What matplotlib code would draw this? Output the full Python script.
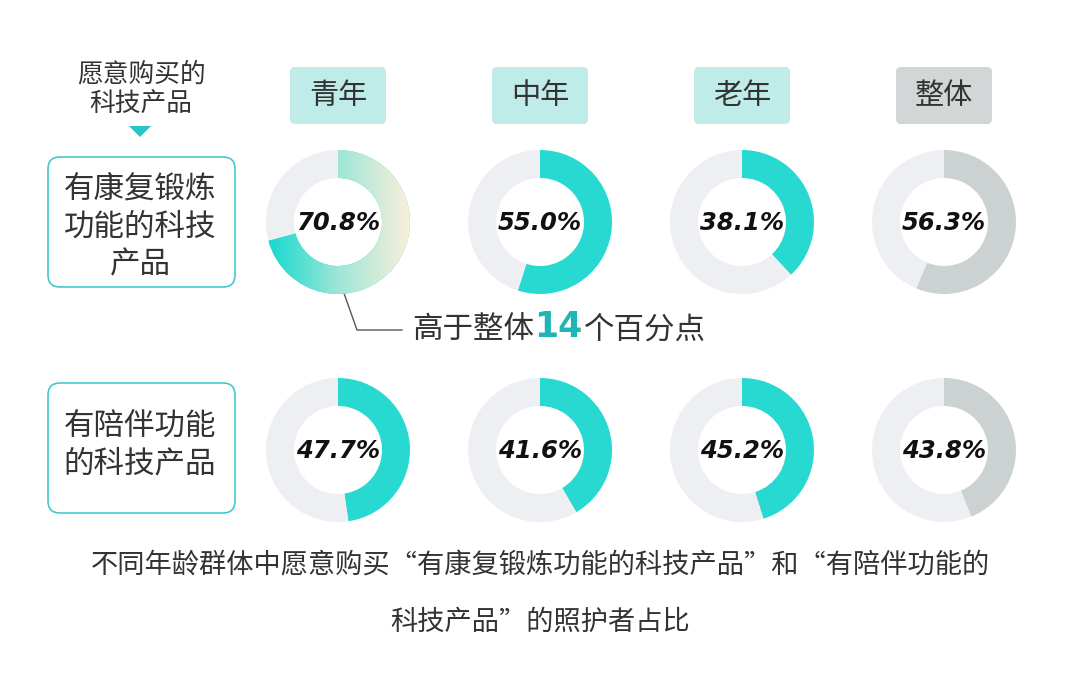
import numpy as np
import matplotlib
matplotlib.use('Agg')
import matplotlib.pyplot as plt
from matplotlib.patches import FancyBboxPatch, Polygon
from matplotlib.colors import LinearSegmentedColormap

plt.rcParams['font.family'] = ['Noto Sans CJK SC', 'DejaVu Sans']

groups = ['青年', '中年', '老年', '整体']
row_labels = ['有康复锻炼\n功能的科技\n产品', '有陪伴功能\n的科技产品']
rehab = [70.8, 55.0, 38.1, 56.3]
companion = [47.7, 41.6, 45.2, 43.8]
values = [rehab, companion]

W, H = 1080, 676
fig = plt.figure(figsize=(W / 100, H / 100), dpi=100)
ax = fig.add_axes([0, 0, 1, 1])
ax.set_xlim(0, W)
ax.set_ylim(H, 0)
ax.axis('off')

col_x = [338, 540, 742, 944]
row_y = [222, 450]
teal = '#27D9D0'
gray = '#CCD1D1'
ring_bg = '#EEEFF3'
txt = '#333333'

# header boxes
for i, g in enumerate(groups):
    fc = '#D3D6D6' if g == '整体' else '#BFECE8'
    ax.add_patch(FancyBboxPatch((col_x[i] - 48, 67), 96, 57,
                                boxstyle='round,pad=0,rounding_size=5',
                                fc=fc, ec='none'))
    ax.text(col_x[i], 96, g, ha='center', va='center', fontsize=21, color=txt)

# left header
ax.text(141, 74, '愿意购买的', ha='center', va='center', fontsize=18.5, color=txt)
ax.text(141, 105, '科技产品', ha='center', va='center', fontsize=18.5, color=txt)
ax.add_patch(Polygon([[129, 126], [151, 126], [140, 137]], closed=True,
                     fc='#2BC4C4', ec='none'))

# row label boxes
for r, lab in enumerate(row_labels):
    y0 = 157 if r == 0 else 383
    ax.add_patch(FancyBboxPatch((48, y0), 187, 130,
                                boxstyle='round,pad=0,rounding_size=12',
                                fc='white', ec='#45C9CB', lw=1.2))
    lines = lab.split('\n')
    yc = y0 + 70 if r == 0 else y0 + 62
    for k, ln in enumerate(lines):
        yy = yc + (k - (len(lines) - 1) / 2) * 37.5
        ax.text(140, yy, ln, ha='center', va='center', fontsize=22, color=txt)

# annotation
ax.plot([340, 357, 402], [282, 330, 330], color='#555555', lw=1)
ax.text(412, 330, '高于整体', ha='left', va='center', fontsize=22, color=txt)
ax.text(534, 327, '14', ha='left', va='center', fontsize=25, color='#1DB5B5',
        fontweight='bold', family='DejaVu Sans')
ax.text(584, 330, '个百分点', ha='left', va='center', fontsize=22, color=txt)

# caption
ax.text(540, 566, '不同年龄群体中愿意购买“有康复锻炼功能的科技产品”和“有陪伴功能的',
        ha='center', va='center', fontsize=19.6, color=txt)
ax.text(540, 622, '科技产品”的照护者占比', ha='center', va='center',
        fontsize=19.6, color=txt)

grad_cmap = LinearSegmentedColormap.from_list('g', ['#10D8CE', '#9EE6D6', '#FBEFDA'])

R, Wd = 72, 28
for r in range(2):
    for i in range(4):
        cx, cy = col_x[i], row_y[r]
        dax = fig.add_axes([(cx - 75) / W, 1 - (cy + 75) / H, 150 / W, 150 / H])
        v = values[r][i]
        color = gray if groups[i] == '整体' else teal
        wedges, _ = dax.pie([v, 100 - v], startangle=90, counterclock=False,
                            radius=R, colors=[color, ring_bg],
                            wedgeprops=dict(width=Wd, linewidth=0))
        if r == 0 and i == 0:
            grad = np.linspace(0, 1, 256).reshape(1, -1)
            im = dax.imshow(grad, extent=[-R, R, -R, R], cmap=grad_cmap,
                            aspect='auto', zorder=3)
            im.set_clip_path(wedges[0])
        dax.set_xlim(-75, 75)
        dax.set_ylim(-75, 75)
        dax.set_aspect('equal')
        dax.axis('off')
        dax.text(0, -1, f'{v:.1f}%', ha='center', va='center', fontsize=17.5,
                 fontweight='bold', style='italic', family='DejaVu Sans',
                 color='#111111', zorder=5)

fig.savefig('out.png', dpi=100, facecolor='white')
